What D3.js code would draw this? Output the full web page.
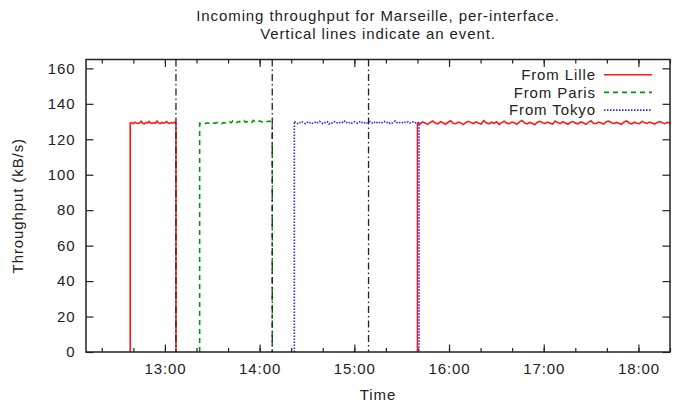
<!DOCTYPE html>
<html>
<head>
<meta charset="utf-8">
<script src="https://cdn.jsdelivr.net/npm/d3@7"></script>
<style>
  body { margin: 0; background: #fff; }
  text { font-family: "Liberation Sans", Arial, sans-serif; font-size: 15px; letter-spacing: 0.9px; fill: #222; }
</style>
</head>
<body>
<div class="chart"></div>
<script>
// throughput samples (kB/s), spread evenly between start and end time
const lilleStart1 = "12:38", lilleEnd1 = "13:07";
const lilleValues1 = [129.1, 129.4, 128.8, 129.6, 129.2, 128.9, 129.3, 130.2, 129.0, 128.7,
  129.5, 129.1, 130.1, 129.2, 128.9, 129.4, 129.0, 130.3, 129.2, 128.8,
  129.5, 129.1, 129.3, 130.0, 129.2, 128.9, 129.4, 129.1, 129.6, 129.0];

const parisStart = "13:22", parisEnd = "14:08";
const parisValues = [129.0, 128.8, 129.2, 129.1, 128.9, 129.3, 129.0, 129.4, 128.9, 129.2,
  129.1, 129.5, 129.0, 129.3, 128.8, 129.4, 129.2, 129.6, 129.1, 129.8,
  129.3, 130.4, 129.5, 129.2, 129.7, 130.1, 129.4, 129.9, 130.5, 129.6,
  130.0, 129.8, 130.3, 129.5, 130.6, 129.9, 130.2, 129.7, 130.4, 130.0,
  129.8, 130.5, 130.1, 129.9, 130.3, 130.0, 129.8];

const tokyoStart = "14:22", tokyoEnd = "15:41";
const tokyoValues = [130.2, 129.4, 128.9, 129.6, 129.1, 129.8, 129.3, 128.8, 129.5, 129.9,
  129.2, 128.7, 129.4, 129.7, 129.0, 129.5, 130.1, 129.3, 128.9, 129.6,
  129.2, 129.8, 128.6, 129.4, 129.1, 129.7, 130.0, 129.3, 128.9, 129.5,
  129.8, 129.2, 130.3, 129.6, 129.0, 129.4, 128.8, 129.5, 129.9, 129.3,
  129.1, 129.6, 130.2, 129.4, 128.9, 129.7, 129.2, 129.5, 130.0, 129.3,
  128.8, 129.6, 129.1, 129.9, 129.4, 129.0, 129.7, 130.1, 129.3, 129.5,
  128.9, 129.6, 129.2, 129.8, 130.3, 129.4, 129.0, 129.5, 129.7, 129.1,
  129.6, 129.3, 129.9, 129.2, 129.5, 129.8, 129.1, 129.4, 129.6, 129.3];

const lilleStart2 = "15:40", lilleEnd2 = "18:20";
const lilleValues2 = [129.0, 128.6, 129.8, 129.2, 128.4, 129.5, 130.3, 129.1, 128.7, 129.9,
  129.3, 128.5, 129.6, 130.4, 129.0, 128.8, 129.7, 129.2, 128.3, 129.5,
  130.1, 129.4, 128.9, 129.8, 129.1, 128.6, 130.5, 129.3, 128.7, 129.6,
  129.0, 129.9, 128.4, 129.4, 130.2, 129.1, 128.8, 129.7, 129.3, 128.5,
  129.8, 130.6, 129.2, 128.7, 129.5, 129.0, 128.2, 129.6, 130.1, 129.3,
  128.9, 129.7, 129.1, 128.6, 130.3, 129.4, 128.8, 129.9, 129.2, 128.5,
  129.6, 130.0, 129.1, 128.7, 129.8, 129.3, 128.4, 129.5, 130.4, 129.0,
  128.8, 129.7, 129.2, 128.6, 129.9, 130.2, 129.3, 128.9, 129.5, 129.1,
  128.5, 129.8, 130.3, 129.2, 128.7, 129.6, 129.0, 128.8, 130.1, 129.4,
  128.9, 129.7, 129.2, 128.6, 129.5, 130.0, 129.3, 128.8, 129.6, 129.1];

const eventTimes = ["13:07", "14:08", "15:09"];
const yTicks = [0, 20, 40, 60, 80, 100, 120, 140, 160];
const legendLabels = ["From Lille", "From Paris", "From Tokyo"];

const margin = {top: 59.5, left: 86, right: 15, bottom: 58};
const width = 685 - margin.left - margin.right;
const height = 410 - margin.top - margin.bottom;

const parse = d3.timeParse("%H:%M");

const svg = d3.select(".chart").append("svg")
    .attr("width", 685)
    .attr("height", 410);

const g = svg.append("g")
    .attr("transform", `translate(${margin.left},${margin.top})`);

const xScale = d3.scaleTime()
    .domain([parse("12:10"), parse("18:20")])
    .range([0, width]);

const yScale = d3.scaleLinear()
    .domain([0, 165])
    .range([height, 0]);

// turn a start/end + values block into points, with drops to 0 at both ends
function segment(start, end, values, dropEnd) {
    const t0 = parse(start), t1 = parse(end);
    const n = values.length;
    const pts = values.map((v, i) => ({t: new Date(+t0 + (t1 - t0) * i / (n - 1)), v: v}));
    pts.unshift({t: t0, v: 0});
    if (dropEnd) pts.push({t: t1, v: 0});
    return pts;
}

const series = [
    {name: "lille", color: "#ff1a1a", dash: null, segs: [segment(lilleStart1, lilleEnd1, lilleValues1, true), segment(lilleStart2, lilleEnd2, lilleValues2, false)]},
    {name: "paris", color: "#009a00", dash: "5,4", segs: [segment(parisStart, parisEnd, parisValues, true)]},
    {name: "tokyo", color: "#2626ff", dash: "1.5,1.5", segs: [segment(tokyoStart, tokyoEnd, tokyoValues, true)]}
];

svg.append("defs").append("clipPath").attr("id", "plot")
    .append("rect").attr("width", width).attr("height", height);

// ticks, all pointing inward
const majors = xScale.ticks(d3.timeHour.every(1));
const minors = xScale.ticks(d3.timeMinute.every(20));

g.append("g")
    .attr("class", "axis x-minor")
    .attr("transform", `translate(0,${height})`)
    .call(d3.axisBottom(xScale).tickValues(minors).tickSize(-4).tickFormat(""));
g.append("g")
    .attr("class", "axis x-minor-top")
    .call(d3.axisTop(xScale).tickValues(minors).tickSize(-4).tickFormat(""));

g.append("g")
    .attr("class", "axis x-axis")
    .attr("transform", `translate(0,${height})`)
    .call(d3.axisBottom(xScale).tickValues(majors).tickSize(-7.5).tickPadding(11.5).tickFormat(d3.timeFormat("%H:%M")));
g.append("g")
    .attr("class", "axis x-top")
    .call(d3.axisTop(xScale).tickValues(majors).tickSize(-7.5).tickFormat(""));

g.append("g")
    .attr("class", "axis y-axis")
    .call(d3.axisLeft(yScale).tickValues(yTicks).tickSize(-7.5).tickPadding(10.5));
g.append("g")
    .attr("class", "axis y-right")
    .attr("transform", `translate(${width},0)`)
    .call(d3.axisRight(yScale).tickValues(yTicks).tickSize(-7.5).tickFormat(""));

g.selectAll(".axis .domain").remove();
g.selectAll(".axis line").attr("stroke", "#222").attr("stroke-width", 1.2);
g.selectAll(".axis text")
    .attr("font-family", null).attr("font-size", null).attr("fill", "#222");

// data lines
const line = d3.line()
    .x(d => xScale(d.t))
    .y(d => yScale(d.v));

const lines = g.append("g").attr("clip-path", "url(#plot)");
series.forEach(s => {
    lines.selectAll(".line-" + s.name)
        .data(s.segs)
        .enter()
        .append("path")
        .attr("class", "line-" + s.name)
        .attr("d", line)
        .attr("fill", "none")
        .attr("stroke", s.color)
        .attr("stroke-width", 1.6)
        .attr("stroke-dasharray", s.dash);
});

// event lines
g.selectAll(".event")
    .data(eventTimes.map(parse))
    .enter()
    .append("line")
    .attr("class", "event")
    .attr("x1", d => xScale(d)).attr("x2", d => xScale(d))
    .attr("y1", 0).attr("y2", height)
    .attr("stroke", "#222")
    .attr("stroke-width", 1.3)
    .attr("stroke-dasharray", "7,3,1.5,3");

// border
g.append("rect")
    .attr("width", width).attr("height", height)
    .attr("fill", "none")
    .attr("stroke", "#222")
    .attr("stroke-width", 1.5);

// legend
const legend = g.append("g").attr("class", "legend");
series.forEach((s, i) => {
    const ly = 15.2 + i * 17.7;
    legend.append("text")
        .attr("x", 510)
        .attr("y", ly)
        .attr("dy", "0.35em")
        .attr("text-anchor", "end")
        .text(legendLabels[i]);
    legend.append("line")
        .attr("x1", 518).attr("x2", 566)
        .attr("y1", ly).attr("y2", ly)
        .attr("stroke", s.color)
        .attr("stroke-width", 1.6)
        .attr("stroke-dasharray", s.dash);
});

// titles
svg.append("text")
    .attr("x", margin.left + width / 2).attr("y", 21)
    .attr("text-anchor", "middle")
    .text("Incoming throughput for Marseille, per-interface.");
svg.append("text")
    .attr("x", margin.left + width / 2).attr("y", 39)
    .attr("text-anchor", "middle")
    .text("Vertical lines indicate an event.");

svg.append("text")
    .attr("class", "x-axis-title")
    .attr("x", margin.left + width / 2).attr("y", 400)
    .attr("text-anchor", "middle")
    .text("Time");

svg.append("text")
    .attr("class", "y-axis-title")
    .attr("transform", `translate(23,${margin.top + height / 2}) rotate(-90)`)
    .attr("text-anchor", "middle")
    .text("Throughput (kB/s)");
</script>
</body>
</html>
